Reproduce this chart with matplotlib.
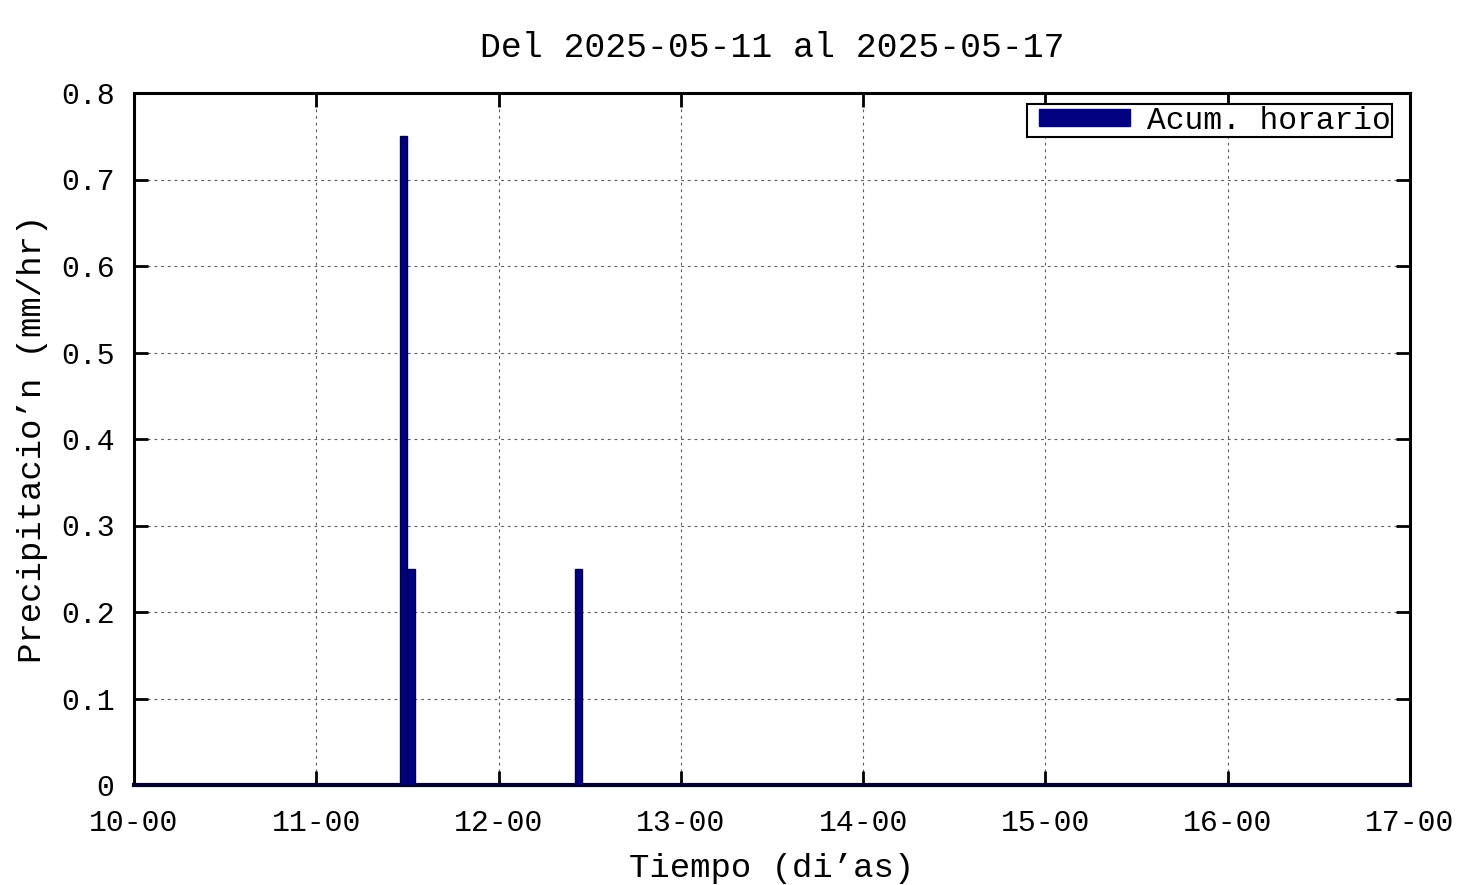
import matplotlib
matplotlib.use("Agg")
import matplotlib.pyplot as plt
from matplotlib.patches import Patch

# hourly accumulated rain (start of each hour), mm/hr
hour_start = ["2025-05-11 11:00", "2025-05-11 12:00", "2025-05-12 10:00"]
precip = [0.75, 0.25, 0.25]

day_ticks = [10, 11, 12, 13, 14, 15, 16, 17]
day_labels = [f"{d}-00" for d in day_ticks]
y_ticks = [0, 0.1, 0.2, 0.3, 0.4, 0.5, 0.6, 0.7, 0.8]
y_labels = ["0", "0.1", "0.2", "0.3", "0.4", "0.5", "0.6", "0.7", "0.8"]


def to_day(s):
    date, hm = s.split(" ")
    h, m = hm.split(":")
    return int(date.split("-")[2]) + (int(h) + int(m) / 60) / 24


xs = [to_day(s) for s in hour_start]

font = "Liberation Mono"
bar_c = "#000080"

fig = plt.figure(figsize=(14.76, 8.85), dpi=100)
ax = fig.add_axes([134 / 1476, 100 / 885, 1276 / 1476, 692 / 885])

ax.bar(xs, precip, width=1 / 24, align="edge", color=bar_c,
       edgecolor="#00004a", linewidth=1.0, zorder=3)

ax.set_xlim(10, 17)
ax.set_ylim(0, 0.8)
ax.set_xticks(day_ticks)
ax.set_xticklabels(day_labels, fontsize=21.5, family=font)
ax.set_yticks(y_ticks)
ax.set_yticklabels(y_labels, fontsize=21.5, family=font)
ax.tick_params(direction="in", length=10, width=2, top=True, right=True)
ax.tick_params(axis="x", pad=17)
ax.tick_params(axis="y", pad=14)

ax.grid(True, color="#333333", linestyle=(0, (2.5, 3.5)), linewidth=0.8, alpha=0.8)
ax.set_axisbelow(True)
for s in ax.spines.values():
    s.set_linewidth(2.2)
    s.set_color("black")
ax.spines["bottom"].set_color("#00002a")
ax.spines["bottom"].set_linewidth(3)

ax.set_title("Del 2025-05-11 al 2025-05-17", fontsize=25, family=font, pad=26)
ax.set_xlabel("Tiempo (di\u2019as)", fontsize=24.5, family=font, labelpad=12)
ax.set_ylabel("Precipitacio\u2019n (mm/hr)", fontsize=24.5, family=font, labelpad=9)

leg = ax.legend(handles=[Patch(facecolor=bar_c, edgecolor=bar_c, label="Acum. horario")],
                loc="upper right", bbox_to_anchor=(0.986, 0.984),
                prop={"family": font, "size": 22.5}, fancybox=False,
                edgecolor="black", framealpha=1, borderpad=0.05,
                handlelength=2.9, handleheight=0.5, handletextpad=0.9,
                borderaxespad=0)
leg.get_frame().set_linewidth(1.5)
# nudge the swatch right, away from the frame
for h in leg.legend_handles:
    h.set_x(h.get_x() + 8)

fig.savefig("out.png", dpi=100)
